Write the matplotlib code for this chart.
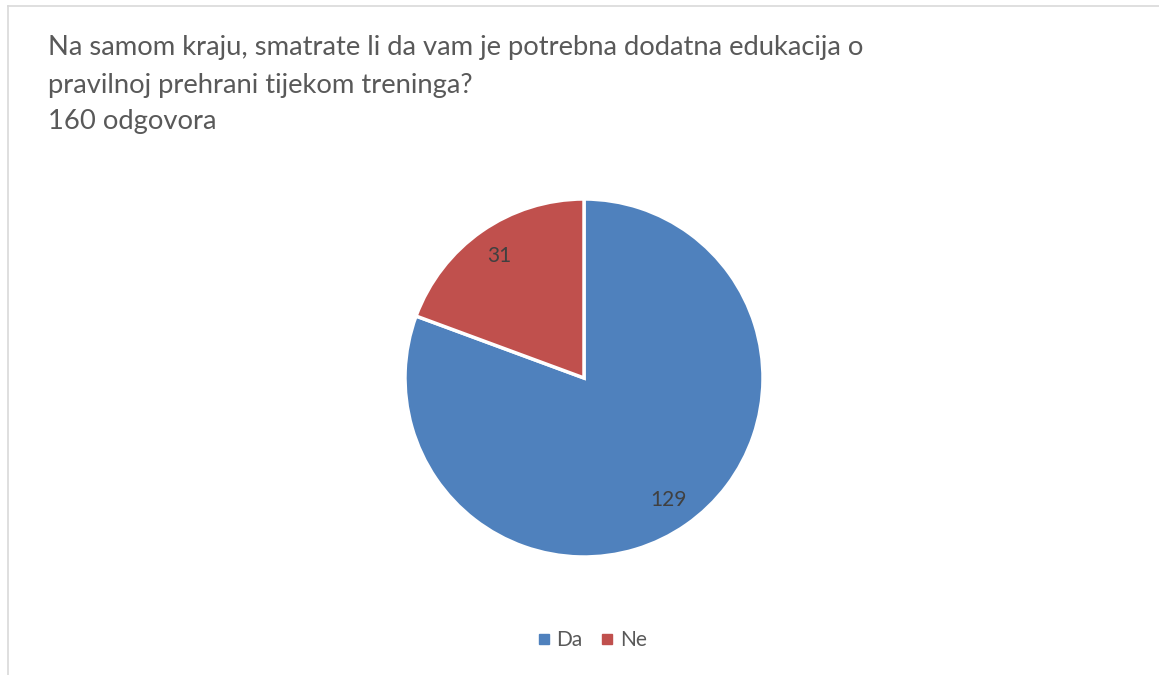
import matplotlib.pyplot as plt
from matplotlib.lines import Line2D

plt.rcParams['font.family'] = ['Lato', 'DejaVu Sans']

title_lines = ["Na samom kraju, smatrate li da vam je potrebna dodatna edukacija o",
               "pravilnoj prehrani tijekom treninga?",
               "160 odgovora"]
labels = ['Da', 'Ne']
counts = [129, 31]
colors = ['#4F81BD', '#C0504D']
text_gray = '#595959'

W, H = 1159, 675
fig = plt.figure(figsize=(W / 100, H / 100), dpi=100)

# chart frame (only top and left edge visible)
fig.add_artist(Line2D([8 / W, 1], [1 - 6 / H, 1 - 6 / H], color='#d9d9d9', lw=1.2,
                      transform=fig.transFigure))
fig.add_artist(Line2D([8 / W, 8 / W], [0, 1 - 6 / H], color='#d9d9d9', lw=1.2,
                      transform=fig.transFigure))

title_y = [47, 86, 121]
for line, y in zip(title_lines, title_y):
    fig.text(48 / W, 1 - y / H, line, fontsize=19.7, color=text_gray,
             ha='left', va='center')

cx, cy, r = 584, 378, 179
ax = fig.add_axes([(cx - r) / W, (H - cy - r) / H, 2 * r / W, 2 * r / H])
wedges, texts = ax.pie(counts, colors=colors, startangle=90, counterclock=False,
                       labels=[str(c) for c in counts], labeldistance=0.83,
                       wedgeprops=dict(edgecolor='white', linewidth=2.5),
                       textprops=dict(fontsize=15, color='#404040'))
for t in texts:
    t.set_ha('center')
    t.set_va('center')
ax.set_xlim(-1.0, 1.0)
ax.set_ylim(-1.0, 1.0)
ax.set_aspect('equal')

handles = [Line2D([], [], marker='s', linestyle='', markersize=7.5, color=c) for c in colors]
fig.legend(handles, labels, loc='center', bbox_to_anchor=(590 / W, 1 - 640 / H),
           ncol=2, frameon=False, fontsize=15, labelcolor=text_gray,
           handletextpad=0.1, columnspacing=0.7, handlelength=1.0)

fig.savefig('out.png', dpi=100, facecolor='white')
